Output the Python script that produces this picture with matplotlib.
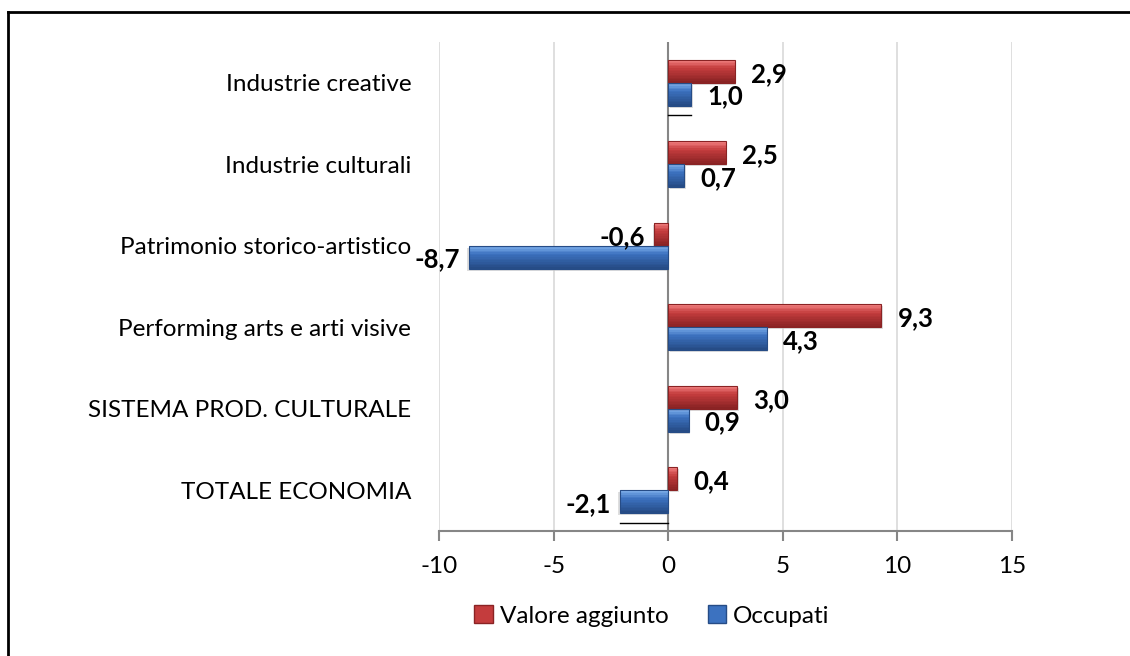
import matplotlib
matplotlib.use("Agg")
import matplotlib.pyplot as plt
from matplotlib.lines import Line2D
from matplotlib.patches import Rectangle
from matplotlib.colors import to_rgb
import numpy as np

plt.rcParams['font.family'] = ['Lato', 'DejaVu Sans']

# Variazioni percentuali per comparto
categorie = ["Industrie creative", "Industrie culturali", "Patrimonio storico-artistico",
             "Performing arts e arti visive", "SISTEMA PROD. CULTURALE", "TOTALE ECONOMIA"]
valore_aggiunto = [2.9, 2.5, -0.6, 9.3, 3.0, 0.4]
occupati = [1.0, 0.7, -8.7, 4.3, 0.9, -2.1]

serie = [
    ("Valore aggiunto", valore_aggiunto, "#C43C3D", "#EE7B7B", "#8A2324"),
    ("Occupati", occupati, "#3C72C0", "#7DAEEA", "#264C86"),
]

W, H = 1130, 656
fig = plt.figure(figsize=(W / 100, H / 100), dpi=100)
fig.patch.set_facecolor('white')

# cornice esterna (solo lati superiore e sinistro visibili)
fig.add_artist(Line2D([8 / W, 1], [1 - 12 / H, 1 - 12 / H], color='black', lw=2))
fig.add_artist(Line2D([8 / W, 8 / W], [0, 1 - 12 / H], color='black', lw=2))

ax = fig.add_axes([439 / W, (H - 531) / H, (1012 - 439) / W, (531 - 42) / H])
ax.set_xlim(-10, 15)
n = len(categorie)
ax.set_ylim(-0.5, n - 0.5)

y = np.arange(n)[::-1]
h = 0.28
offsets = [0.14, -0.14]

ax.set_xticks([-10, -5, 0, 5, 10, 15])
ax.set_xticklabels(['-10', '-5', '0', '5', '10', '15'], fontsize=17.5)
ax.tick_params(axis='x', length=7, width=1.5, color='#868686', pad=11)
ax.set_yticks(y)
ax.set_yticklabels(categorie, fontsize=17.5)
ax.tick_params(axis='y', length=0, pad=20)

ax.grid(axis='x', color='#D9D9D9', lw=1.2, zorder=0)
ax.set_axisbelow(True)
for s in ['top', 'right', 'left']:
    ax.spines[s].set_visible(False)
ax.spines['bottom'].set_color('#868686')
ax.spines['bottom'].set_linewidth(1.5)
ax.axvline(0, color='#868686', lw=1.5, zorder=1)


def sfumatura(chiaro, base, scuro, k):
    # colori dall'alto verso il basso della barra: chiaro -> base -> scuro
    c1, c2, c3 = (np.array(to_rgb(c)) for c in (chiaro, base, scuro))
    out = []
    for t in np.linspace(0, 1, k):
        if t < 0.35:
            out.append(c1 + (c2 - c1) * t / 0.35)
        else:
            out.append(c2 + (c3 - c2) * (t - 0.35) / 0.65)
    return out


k = 14
for (nome, vals, base, chiaro, scuro), off in zip(serie, offsets):
    yc = y + off
    # ombra
    ax.barh(yc - 0.025, vals, left=np.sign(vals) * 0.07, height=h, color='#C8C8C8',
            alpha=0.6, zorder=2)
    # corpo della barra a fasce sfumate
    colori = sfumatura(chiaro, base, scuro, k)
    for j, col in enumerate(colori):
        yj = yc + h / 2 - (j + 0.5) * h / k
        ax.barh(yj, vals, height=h / k * 1.05, color=col, lw=0, zorder=3)
    ax.barh(yc, vals, height=h, fill=False, edgecolor=scuro, lw=0.8, zorder=4)
    for yy, v in zip(yc, vals):
        testo = f"{v:.1f}".replace('.', ',')
        if v >= 0:
            ax.text(v + 0.7, yy - 0.03, testo, ha='left', va='center', fontsize=18.5,
                    fontweight='bold', zorder=5)
        else:
            ax.text(v - 0.4, yy - 0.03, testo, ha='right', va='center', fontsize=18.5,
                    fontweight='bold', zorder=5)

# tratti sotto le barre di occupati della prima e dell'ultima categoria
for i in [0, n - 1]:
    yb = y[i] + offsets[1] - h / 2 - 0.12
    ax.plot([0, occupati[i]], [yb, yb], color='black', lw=1, zorder=5)

handles = [Rectangle((0, 0), 1, 1, facecolor=s[2], edgecolor=s[4]) for s in serie]
fig.legend(handles, [s[0] for s in serie], loc='center', bbox_to_anchor=(652 / W, 1 - 616 / H),
           ncol=2, frameon=False, fontsize=17.5, handlelength=0.75, handleheight=0.75,
           handletextpad=0.3, columnspacing=1.6)

fig.savefig('out.png', dpi=100, facecolor='white')
